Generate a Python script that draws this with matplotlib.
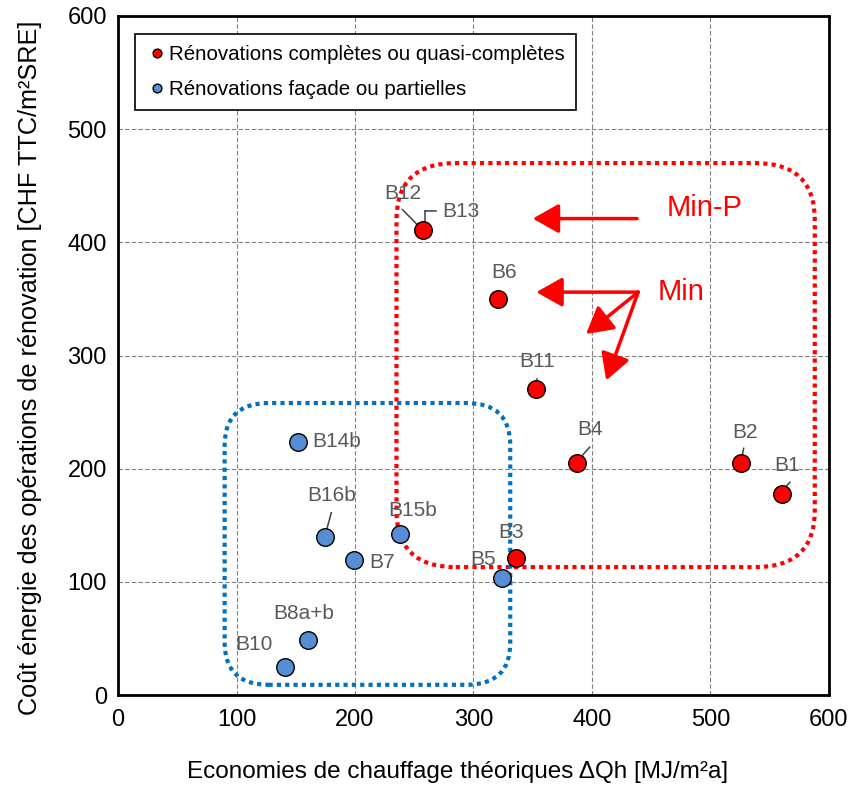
import matplotlib
matplotlib.use("Agg")
import matplotlib.pyplot as plt
from matplotlib.patches import FancyBboxPatch

plt.rcParams['font.family'] = ['Liberation Sans', 'DejaVu Sans']

# Data
red_names = ["B1", "B2", "B3", "B4", "B6", "B11", "B13"]
red_x = [560, 526, 336, 387, 321, 353, 257]
red_y = [178, 205, 121, 205, 350, 270, 411]

blue_names = ["B5", "B7", "B8a+b", "B10", "B14b", "B15b", "B16b"]
blue_x = [324, 199, 160, 141, 152, 238, 175]
blue_y = [103, 119, 49, 25, 224, 142, 140]

# label text positions (data coords) and alignment
labels = {
    "B12": (240.5, 443, 'center'),
    "B13": (274, 427, 'left'),
    "B6": (326, 373, 'center'),
    "B11": (354, 295, 'center'),
    "B4": (398, 235, 'center'),
    "B2": (529, 232, 'center'),
    "B1": (565, 203, 'center'),
    "B3": (332, 144, 'center'),
    "B5": (308, 120, 'center'),
    "B15b": (249, 163, 'center'),
    "B14b": (164, 224, 'left'),
    "B16b": (180, 176, 'center'),
    "B7": (212, 117, 'left'),
    "B8a+b": (157, 72, 'center'),
    "B10": (115, 45, 'center'),
}

# leader lines: (x0, y0, x1, y1)
leaders = [
    (240, 429, 255, 413),
    (259, 411, 259, 428),
    (259, 428, 268, 428),
    (354, 272, 354, 279),
    (387, 206, 398, 219),
    (526, 207, 528, 218),
    (560, 180, 567, 188),
    (175, 142, 180, 161),
]

fig = plt.figure(figsize=(8.52, 7.88), dpi=100)
ax = fig.add_axes([0.1385, 0.118, 0.8345, 0.8617])

ax.set_xlim(0, 600)
ax.set_ylim(0, 600)
ax.set_xticks(range(0, 601, 100))
ax.set_yticks(range(0, 601, 100))
ax.grid(True, color='#808080', linestyle=(0, (4, 2)), linewidth=0.8)
ax.set_axisbelow(True)
for s in ax.spines.values():
    s.set_linewidth(2)
    s.set_color('black')
ax.tick_params(axis='both', length=0, labelsize=17)
ax.tick_params(axis='y', pad=8)
ax.tick_params(axis='x', pad=10)

# rounded boxes
red_box = FancyBboxPatch((235, 113), 353, 357,
                         boxstyle="round,pad=0,rounding_size=50",
                         fill=False, edgecolor='#FF0000', linewidth=3,
                         linestyle=(0, (1, 1)), zorder=2)
ax.add_patch(red_box)
blue_box = FancyBboxPatch((90, 9), 241, 249,
                          boxstyle="round,pad=0,rounding_size=37",
                          fill=False, edgecolor='#0070C0', linewidth=3,
                          linestyle=(0, (1, 1)), zorder=2)
ax.add_patch(blue_box)

# leader lines
for x0, y0, x1, y1 in leaders:
    ax.plot([x0, x1], [y0, y1], color='#404040', linewidth=1.1, zorder=4)

ax.scatter(red_x, red_y, s=160, c='#FF0000', edgecolors='black', linewidths=1,
           zorder=5, label='Rénovations complètes ou quasi-complètes')
ax.scatter(blue_x, blue_y, s=160, c='#558ED5', edgecolors='black', linewidths=1,
           zorder=5, label='Rénovations façade ou partielles')

for name, (tx, ty, ha) in labels.items():
    ax.text(tx, ty, name, ha=ha, va='center', fontsize=15, color='#595959', zorder=6)

# arrows
arrow_kw = dict(arrowstyle='-|>,head_length=0.8,head_width=0.45', color='#FF0000',
                lw=2.5, shrinkA=0, shrinkB=0, mutation_scale=20)
ax.annotate('', xy=(350, 421), xytext=(438, 421), arrowprops=arrow_kw, zorder=6)
ax.annotate('', xy=(353, 356), xytext=(439, 356), arrowprops=arrow_kw, zorder=6)
ax.annotate('', xy=(395, 319), xytext=(439, 356), arrowprops=arrow_kw, zorder=6)
ax.annotate('', xy=(412, 278), xytext=(439, 356), arrowprops=arrow_kw, zorder=6)
ax.text(495, 430, 'Min-P', ha='center', va='center', fontsize=21, color='#FF0000')
ax.text(455, 356, 'Min', ha='left', va='center', fontsize=21, color='#FF0000')

leg = ax.legend(loc='upper left', bbox_to_anchor=(0.024, 0.9735), fontsize=14.8,
                frameon=True, fancybox=False, edgecolor='black', framealpha=1,
                markerscale=0.5, handletextpad=0.1, handlelength=1.0,
                labelspacing=0.75, borderpad=0.55, borderaxespad=0,
                scatteryoffsets=[0.5])
leg.get_frame().set_linewidth(1.2)

ax.set_xlabel('Economies de chauffage théoriques \u0394Qh [MJ/m²a]', fontsize=17.5)
ax.xaxis.label.set_va('center')
ax.xaxis.set_label_coords(0.478, -0.114)
ax.set_ylabel('Coût énergie des opérations de rénovation [CHF TTC/m²SRE]', fontsize=18.2)
ax.yaxis.label.set_va('center')
ax.yaxis.set_label_coords(-0.124, 0.482)

fig.savefig('out.png', dpi=100)
